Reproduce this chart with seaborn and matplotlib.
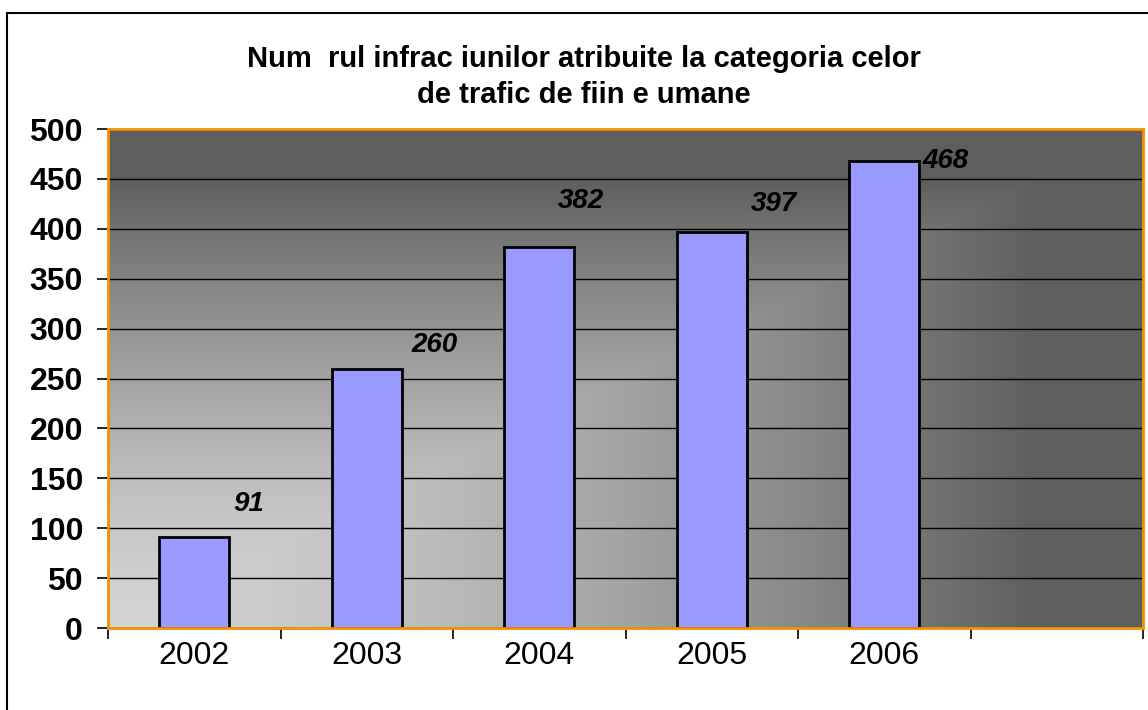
import numpy as np
import pandas as pd
import matplotlib
matplotlib.use("Agg")
import matplotlib.pyplot as plt
import matplotlib.patches as mpatches
import seaborn as sns

# datele graficului
ani = ["2002", "2003", "2004", "2005", "2006"]
valori = [91, 260, 382, 397, 468]
slot_gol = [""]  # al saselea loc, gol
y_ticks = [0, 50, 100, 150, 200, 250, 300, 350, 400, 450, 500]

# deplasarea etichetelor (puncte), asezate manual ca in Excel
eticheta_dx = [39, 49, 30, 45, 44]
eticheta_dy = [24, 17, 33, 20, 0]

titlu = "Num  rul infrac iunilor atribuite la categoria celor\nde trafic de fiin e umane"

sns.set_style("white")
plt.rcParams["font.family"] = ["Liberation Sans", "DejaVu Sans"]
plt.rcParams["text.color"] = "black"
plt.rcParams["xtick.color"] = "black"
plt.rcParams["ytick.color"] = "black"

df = pd.DataFrame({"an": ani, "valoare": valori})

fig = plt.figure(figsize=(11.48, 7.10), dpi=100)
ax = fig.add_axes([108 / 1148, 82 / 710, 1035 / 1148, 499 / 710])

# fundal cu degrade (deschis jos-stanga, inchis sus/dreapta)
u = np.linspace(0, 1, 400)
v = np.linspace(1, 0, 250)
U, V = np.meshgrid(u, v)
t = np.clip(np.maximum(U, V) / 0.9, 0, 1) ** 1.5
gri = 0.83 - (0.83 - 0.37) * t
img = np.dstack([gri, gri, gri])
ax.imshow(img, extent=(0, 1, 0, 1), transform=ax.transAxes, aspect="auto", zorder=0)

sns.barplot(data=df, x="an", y="valoare", order=ani + slot_gol, color="#9999ff",
            saturation=1, width=0.406, edgecolor="black", linewidth=2, ax=ax, zorder=2)

ax.set_xlim(-0.5, len(ani + slot_gol) - 0.5)
ax.set_ylim(0, 500)
ax.set_yticks(y_ticks)
ax.set_yticklabels([str(y) for y in y_ticks], fontsize=23, fontweight="bold")
ax.set_xticks(range(len(ani + slot_gol)))
ax.set_xticklabels(ani + slot_gol, fontsize=23)
ax.set_xticks(np.arange(-0.5, len(ani + slot_gol)), minor=True)
ax.tick_params(axis="x", which="major", bottom=True, length=0, pad=9)
ax.tick_params(axis="x", which="minor", bottom=True, length=8, width=1.2,
               color="black", direction="out")
ax.tick_params(axis="y", which="major", left=True, length=8, width=1.2,
               color="black", direction="out", pad=10)
ax.set_xlabel("")
ax.set_ylabel("")

ax.yaxis.grid(True, color="black", linewidth=1)
ax.set_axisbelow(True)
for gl in ax.get_ygridlines():
    gl.set_zorder(1)

for s in ax.spines.values():
    s.set_visible(True)
    s.set_color("#f39200")
    s.set_linewidth(2)
    s.set_zorder(3)

# etichete de valori
for i, val in enumerate(valori):
    ax.annotate(str(val), xy=(i, val), xytext=(eticheta_dx[i], eticheta_dy[i]),
                textcoords="offset points", ha="center", va="center",
                fontsize=20, fontweight="bold", fontstyle="italic", zorder=4)

fig.text(584 / 1148, 1 - 77 / 710, titlu, ha="center", va="center",
         fontsize=21, fontweight="bold", linespacing=1.32)

# chenarul exterior
cadru = mpatches.Rectangle((7 / 1148, -0.1), 1.2, 1.1 - 13 / 710, transform=fig.transFigure,
                           fill=False, edgecolor="black", linewidth=1.5, clip_on=False)
fig.patches.append(cadru)

fig.savefig("out.png", dpi=100)
